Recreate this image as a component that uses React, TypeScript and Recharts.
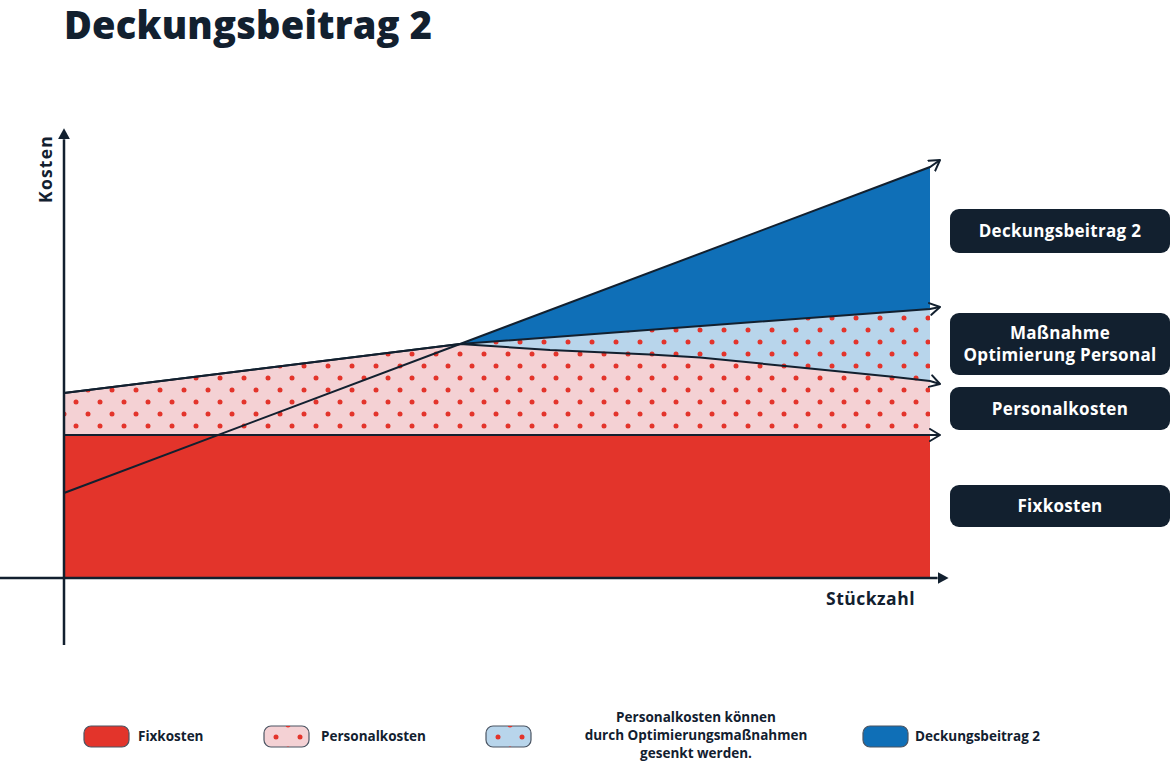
import React from 'react';
import { ComposedChart, Area, Line, XAxis, YAxis, ReferenceLine } from 'recharts';

// Stückzahl (x) / Kosten (y)
const fixX = [0, 108.25, 109.5];
const fixkosten = [35.75, 35.75, 35.75];

const personalX = [0, 49.5, 60.75, 73.25, 79.5, 90.75, 103.25, 108.25, 109.5];
const personalkosten = [46.25, 58.5, 57, 55.9, 55.1, 52.9, 50.4, 49.25, 48.5];

const massnahmeX = [0, 49.5, 108.25, 109.5];
const massnahme = [46.25, 58.5, 67.25, 67.75];

const umsatzX = [0, 49.5, 108.25, 109.5];
const umsatz = [21.25, 58.5, 102.75, 104.5];

const boxLabels = ['Deckungsbeitrag 2', 'Maßnahme\nOptimierung Personal', 'Personalkosten', 'Fixkosten'];
const legendLabels = ['Fixkosten', 'Personalkosten', 'Personalkosten können\ndurch Optimierungsmaßnahmen\ngesenkt werden.', 'Deckungsbeitrag 2'];

const NAVY = '#12202f';
const RED = '#e3342b';
const PINK = '#f4d1d4';
const LIGHTBLUE = '#b8d5eb';
const BLUE = '#0f6fb7';
const FONT = '"Open Sans", sans-serif';

const AREA_END = 108.25;
const BREAK_EVEN = 49.5;

const toPoints = (xs: number[], ys: number[]) => xs.map((x, i) => ({ x, y: ys[i] }));
const forArea = (pts: { x: number; y: number }[], from = 0) =>
  pts.filter((p) => p.x >= from && p.x <= AREA_END);

const fixLine = toPoints(fixX, fixkosten);
const personalLine = toPoints(personalX, personalkosten);
const massnahmeLine = toPoints(massnahmeX, massnahme);
const umsatzLine = toPoints(umsatzX, umsatz);

const axisShape = (p: any) => (
  <line x1={p.x1} y1={p.y1} x2={p.x2} y2={p.y2} stroke={NAVY} strokeWidth={2.5} markerEnd="url(#axisArrow)" />
);

const Defs = () => (
  <svg width={0} height={0} style={{ position: 'absolute' }}>
    <defs>
      <pattern id="dots" patternUnits="userSpaceOnUse" width={24} height={24}>
        <circle cx={16} cy={6} r={2.5} fill={RED} />
        <circle cx={4} cy={18} r={2.5} fill={RED} />
      </pattern>
      <pattern id="swatchDots" patternUnits="userSpaceOnUse" x={9} y={-6} width={24} height={24}>
        <circle cx={16} cy={6} r={2.5} fill={RED} />
        <circle cx={4} cy={18} r={2.5} fill={RED} />
      </pattern>
      <marker id="chevron" markerUnits="userSpaceOnUse" markerWidth={14} markerHeight={16} refX={11} refY={7} orient="auto">
        <path d="M1,1 L11,7 L1,13" fill="none" stroke={NAVY} strokeWidth={2} strokeLinecap="round" strokeLinejoin="round" />
      </marker>
      <marker id="axisArrow" markerUnits="userSpaceOnUse" markerWidth={12} markerHeight={12} refX={0} refY={6} orient="auto">
        <path d="M0,0 L11,6 L0,12 Z" fill={NAVY} />
      </marker>
    </defs>
  </svg>
);

const Swatch = ({ fill, pattern }: { fill: string; pattern?: boolean }) => (
  <svg width={47} height={23} style={{ display: 'block' }}>
    <rect x={1} y={1} width={45} height={21} rx={7} fill={fill} stroke="#4b5563" strokeWidth={1.2} />
    {pattern && <rect x={1} y={1} width={45} height={21} rx={7} fill="url(#swatchDots)" />}
  </svg>
);

const boxes = [
  { top: 209, height: 44 },
  { top: 313, height: 62 },
  { top: 387, height: 43 },
  { top: 485, height: 42 },
];

const legend = [
  { swatchX: 83, textX: 138, fill: RED, pattern: false },
  { swatchX: 263, textX: 321, fill: PINK, pattern: true },
  { swatchX: 485, textX: 696, fill: LIGHTBLUE, pattern: true, center: true },
  { swatchX: 862, textX: 915, fill: BLUE, pattern: false },
];

export default function App() {
  return (
    <div style={{ position: 'absolute', left: 0, top: 0, width: 1171, height: 767, background: '#fff', fontFamily: FONT, color: NAVY, overflow: 'hidden' }}>
      <Defs />
      <div style={{ position: 'absolute', left: 64, top: 2, fontSize: 38, lineHeight: '44px', fontWeight: 800, letterSpacing: 0.2, whiteSpace: 'nowrap' }}>
        Deckungsbeitrag 2
      </div>

      <div style={{ position: 'absolute', left: 0, top: 0 }}>
        <ComposedChart width={1171} height={767} margin={{ top: 118, right: 227, bottom: 189, left: 64 }}>
          <XAxis type="number" dataKey="x" domain={[0, 110]} hide />
          <YAxis type="number" dataKey="y" domain={[0, 115]} hide />

          <Area data={forArea(umsatzLine, BREAK_EVEN)} dataKey="y" type="linear" fill={BLUE} fillOpacity={1} stroke="none" isAnimationActive={false} />
          <Area data={forArea(massnahmeLine, BREAK_EVEN)} dataKey="y" type="linear" fill={LIGHTBLUE} fillOpacity={1} stroke="none" isAnimationActive={false} />
          <Area data={forArea(massnahmeLine, BREAK_EVEN)} dataKey="y" type="linear" fill="url(#dots)" fillOpacity={1} stroke="none" isAnimationActive={false} />
          <Area data={forArea(personalLine)} dataKey="y" type="linear" fill={PINK} fillOpacity={1} stroke="none" isAnimationActive={false} />
          <Area data={forArea(personalLine)} dataKey="y" type="linear" fill="url(#dots)" fillOpacity={1} stroke="none" isAnimationActive={false} />
          <Area data={forArea(fixLine)} dataKey="y" type="linear" fill={RED} fillOpacity={1} stroke="none" isAnimationActive={false} />

          <ReferenceLine segment={[{ x: -8, y: 0 }, { x: 109.2, y: 0 }]} ifOverflow="visible" shape={axisShape} />
          <ReferenceLine segment={[{ x: 0, y: -16.75 }, { x: 0, y: 109.7 }]} ifOverflow="visible" shape={axisShape} />

          <Line data={fixLine} dataKey="y" type="linear" stroke={NAVY} strokeWidth={2} dot={false} markerEnd="url(#chevron)" isAnimationActive={false} />
          <Line data={personalLine} dataKey="y" type="linear" stroke={NAVY} strokeWidth={2} dot={false} markerEnd="url(#chevron)" isAnimationActive={false} />
          <Line data={massnahmeLine} dataKey="y" type="linear" stroke={NAVY} strokeWidth={2} dot={false} markerEnd="url(#chevron)" isAnimationActive={false} />
          <Line data={umsatzLine} dataKey="y" type="linear" stroke={NAVY} strokeWidth={2} dot={false} markerEnd="url(#chevron)" isAnimationActive={false} />
        </ComposedChart>
      </div>

      <div style={{ position: 'absolute', left: 45, top: 169, transform: 'translate(-50%, -50%) rotate(-90deg)', fontSize: 17.5, fontWeight: 700, letterSpacing: 1.2, whiteSpace: 'nowrap' }}>
        Kosten
      </div>
      <div style={{ position: 'absolute', left: 826, top: 586, fontSize: 17.5, fontWeight: 700, letterSpacing: 0.5, whiteSpace: 'nowrap' }}>
        Stückzahl
      </div>

      {boxLabels.map((label, i) => (
        <div key={label} style={{ position: 'absolute', left: 950, top: boxes[i].top, width: 220, height: boxes[i].height, background: NAVY, borderRadius: 9, color: '#fff', fontSize: 17, fontWeight: 700, letterSpacing: 0.3, lineHeight: '22px', display: 'flex', alignItems: 'center', justifyContent: 'center', textAlign: 'center', whiteSpace: 'pre-line' }}>
          {label}
        </div>
      ))}

      {legendLabels.map((label, i) => (
        <React.Fragment key={label}>
          <div style={{ position: 'absolute', left: legend[i].swatchX, top: 725 }}>
            <Swatch fill={legend[i].fill} pattern={legend[i].pattern} />
          </div>
          <div style={{ position: 'absolute', left: legend[i].textX, top: legend[i].center ? 708 : 727, transform: legend[i].center ? 'translateX(-50%)' : undefined, fontSize: 13.5, fontWeight: 700, lineHeight: '18px', textAlign: 'center', whiteSpace: 'pre-line' }}>
            {label}
          </div>
        </React.Fragment>
      ))}
    </div>
  );
}
